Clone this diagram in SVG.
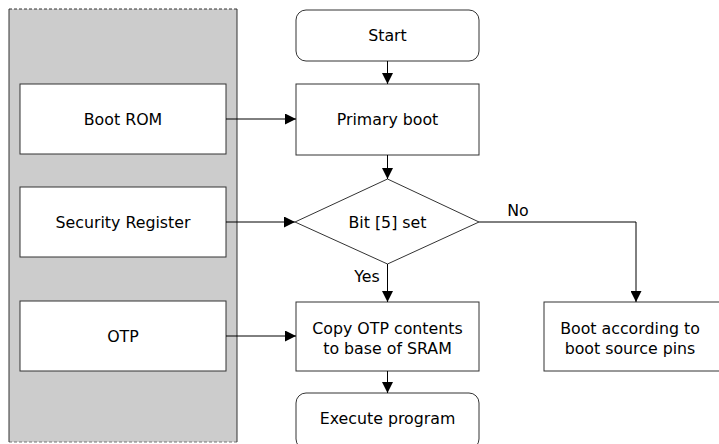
<svg xmlns="http://www.w3.org/2000/svg" width="719" height="444" viewBox="0 0 719 444">
<defs>
<marker id="arr" viewBox="0 0 10 10" refX="10" refY="5" markerWidth="11" markerHeight="11" markerUnits="userSpaceOnUse" orient="auto">
<path d="M0,0 L10,5 L0,10 Z" fill="#000"/>
</marker>
<style>
.box{fill:#fff;stroke:#333;stroke-width:1}
.t{font-family:"DejaVu Sans",Verdana,sans-serif;font-size:15.8px;fill:#000;text-anchor:middle;dominant-baseline:central}
.c{fill:none;stroke:#000;stroke-width:1;marker-end:url(#arr)}
</style>
</defs>
<g id="panel">
<rect x="9" y="9" width="228" height="433" fill="#cccccc"/>
<line x1="9" y1="9" x2="237" y2="9" stroke="#333" stroke-dasharray="3,2"/>
<line x1="9" y1="442" x2="237" y2="442" stroke="#777" stroke-dasharray="3,2"/>
<line x1="9" y1="9" x2="9" y2="442" stroke="#333"/>
<line x1="237" y1="9" x2="237" y2="442" stroke="#333"/>
</g>
<g id="bootrom"><rect class="box" x="20" y="84" width="206" height="70"/><text class="t" x="123" y="119">Boot ROM</text></g>
<g id="secreg"><rect class="box" x="20" y="187" width="206" height="70"/><text class="t" x="123" y="222">Security Register</text></g>
<g id="otp"><rect class="box" x="20" y="301" width="206" height="70"/><text class="t" x="123" y="336">OTP</text></g>
<g id="start"><rect class="box" x="296" y="10" width="183" height="51" rx="10"/><text class="t" x="387.5" y="35.5">Start</text></g>
<g id="primary"><rect class="box" x="296" y="84" width="183" height="71"/><text class="t" x="387.5" y="119.5">Primary boot</text></g>
<g id="decision"><polygon class="box" points="387.5,179 479,222 387.5,264 295,222"/><text class="t" x="387.5" y="222">Bit [5] set</text></g>
<g id="copy"><rect class="box" x="296" y="302" width="183" height="69"/><text class="t" x="387.5" y="328">Copy OTP contents</text><text class="t" x="387.5" y="348">to base of SRAM</text></g>
<g id="execute"><rect class="box" x="296" y="393" width="183" height="56" rx="10"/><text class="t" x="387.5" y="418">Execute program</text></g>
<g id="bootpins"><rect class="box" x="544" y="302" width="183" height="69"/><text class="t" x="630" y="328">Boot according to</text><text class="t" x="630" y="348">boot source pins</text></g>
<g id="connectors">
<line class="c" x1="387.5" y1="61" x2="387.5" y2="84"/>
<line class="c" x1="387.5" y1="155" x2="387.5" y2="179"/>
<line class="c" x1="226" y1="119" x2="296" y2="119"/>
<line class="c" x1="226" y1="222" x2="295" y2="222"/>
<line class="c" x1="226" y1="336" x2="296" y2="336"/>
<line class="c" x1="387.5" y1="264" x2="387.5" y2="302"/>
<polyline class="c" points="479,222 636,222 636,302"/>
<line class="c" x1="387.5" y1="371" x2="387.5" y2="393"/>
<text class="t" x="518" y="210">No</text>
<text class="t" x="367" y="276">Yes</text>
</g>
</svg>
